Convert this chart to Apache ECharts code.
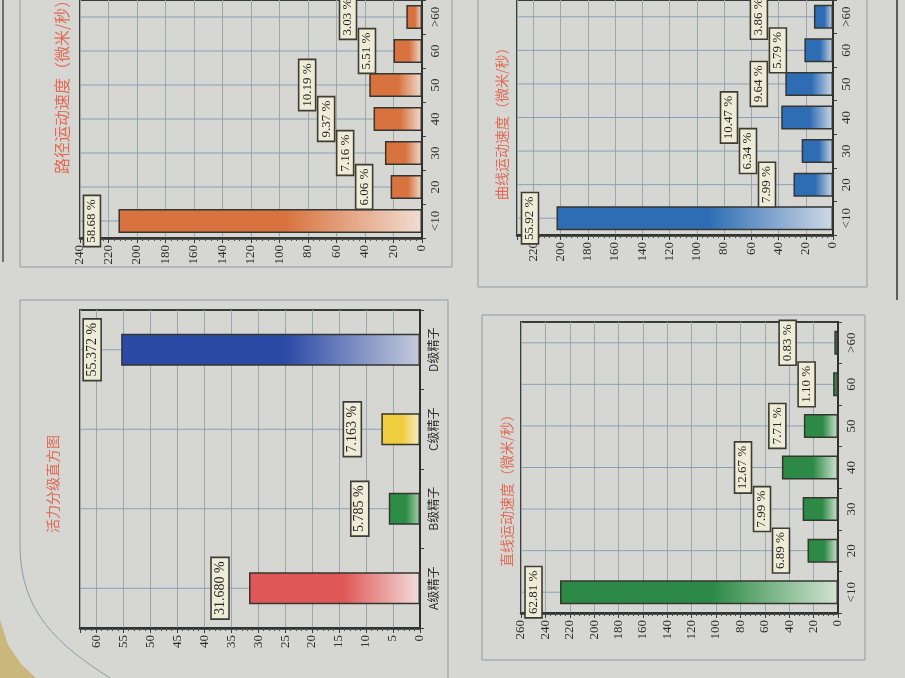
<!DOCTYPE html>
<html><head><meta charset="utf-8">
<script src="https://cdn.jsdelivr.net/npm/echarts@6/dist/echarts.min.js"></script>
<style>html,body{margin:0;padding:0;background:#d6d7d3}#c{width:905px;height:678px}</style>
</head><body><div id="c"></div>
<script>
// ---- data ----
const speedCats = ['<10', '20', '30', '40', '50', '60', '>60'];
const pathCounts = [213, 22, 26, 34, 37, 20, 11];
const pathPct = ['58.68', '6.06', '7.16', '9.37', '10.19', '5.51', '3.03'];
const curveCounts = [203, 29, 23, 38, 35, 21, 14];
const curvePct = ['55.92', '7.99', '6.34', '10.47', '9.64', '5.79', '3.86'];
const lineCounts = [228, 25, 29, 46, 28, 4, 3];
const linePct = ['62.81', '6.89', '7.99', '12.67', '7.71', '1.10', '0.83'];
const gradeCats = ['A级精子', 'B级精子', 'C级精子', 'D级精子'];
const gradeValues = [31.680, 5.785, 7.163, 55.372];
const gradePct = ['31.680', '5.785', '7.163', '55.372'];
const pathTickStep = 20, curveTickStep = 20, lineTickStep = 20, gradeTickStep = 5;

// ---- layout / style ----
const panels = [
  { title: '路径运动速度（微米/秒）', cats: speedCats, values: pathCounts, pct: pathPct,
    max: 240, interval: pathTickStep, grid: { left: 80, top: -14, width: 342, height: 252 },
    colors: [['#d8733f', '#f1ddd2']], titlePos: [62, 174], titleSize: 16, barWidth: 24, labelSize: 13, gap: 18 },
  { title: '曲线运动速度（微米/秒）', cats: speedCats, values: curveCounts, pct: curvePct,
    max: 232, interval: curveTickStep, grid: { left: 517, top: -17, width: 316, height: 252 },
    colors: [['#2e6db4', '#cfd9e6']], titlePos: [502, 200], titleSize: 14, barWidth: 24, labelSize: 13, gap: 18 },
  { title: '活力分级直方图', cats: gradeCats, values: gradeValues, pct: gradePct,
    max: 63, interval: gradeTickStep, grid: { left: 80, top: 310, width: 340, height: 318 },
    colors: [['#e05757', '#f3dcdc'], ['#2d8c45', '#a9d2b2'], ['#f0cd40', '#f6eccb'], ['#2b4aa6', '#c6cbdc']],
    titlePos: [53, 533], titleSize: 14, barWidth: 32, labelSize: 14, gap: 20 },
  { title: '直线运动速度（微米/秒）', cats: speedCats, values: lineCounts, pct: linePct,
    max: 260, interval: lineTickStep, grid: { left: 521, top: 322, width: 317, height: 291 },
    colors: [['#2d8a46', '#d2e4d2']], titlePos: [507, 567], titleSize: 14, barWidth: 24, labelSize: 13, gap: 18 }
];

const SERIF = '"Liberation Serif", "DejaVu Serif", serif';
const CJK = '"Noto Sans CJK SC", sans-serif';
const mctx = document.createElement('canvas').getContext('2d');
function textW(t, size) { mctx.font = size + 'px ' + SERIF; return mctx.measureText(t).width; }

function layoutBoxes(api, p) {
  const boxes = [];
  for (let j = 0; j < p.values.length; j++) {
    const end = api.coord([p.values[j], j]);
    const text = p.pct[j] + ' %';
    const len = textW(text, p.labelSize) + 8;
    const th = p.labelSize + 4;
    const r = { x: end[0] - p.gap - th, y: end[1] - len / 2, w: th, h: len, text: text, cy: end[1], ex: end[0] };
    let moved = true;
    while (moved) {
      moved = false;
      for (const b of boxes) {
        if (r.x < b.x + b.w && r.x + r.w > b.x && r.y < b.y + b.h && r.y + r.h > b.y) {
          r.x = b.x - 2 - th; moved = true;
        }
      }
    }
    boxes.push(r);
  }
  return boxes;
}

const grids = [], xAxes = [], yAxes = [], series = [], graphics = [];

// page decorations
const frameStyle = { fill: 'none', stroke: '#8f9ba6', lineWidth: 1 };
graphics.push(
  { type: 'rect', shape: { x: 20, y: -10, width: 432, height: 277 }, style: frameStyle },
  { type: 'rect', shape: { x: 478, y: -10, width: 389, height: 297 }, style: frameStyle },
  { type: 'polyline', shape: { points: [[448, 678], [448, 300], [20, 300], [20, 545]] }, style: frameStyle },
  { type: 'bezierCurve', shape: { x1: 20, y1: 545, cpx1: 20, cpy1: 612, cpx2: 58, cpy2: 645, x2: 110, y2: 678 }, style: frameStyle },
  { type: 'rect', shape: { x: 482, y: 315, width: 383, height: 345 }, style: frameStyle },
  { type: 'polygon', shape: { points: [[0, 620], [8, 645], [22, 665], [36, 678], [0, 678]] }, style: { fill: '#c9b77c' } },
  { type: 'line', shape: { x1: 3, y1: 0, x2: 3, y2: 262 }, style: { stroke: '#6d6f6c', lineWidth: 2 } },
  { type: 'line', shape: { x1: 897, y1: 0, x2: 897, y2: 300 }, style: { stroke: '#5c5e5b', lineWidth: 2 } }
);

panels.forEach((p, k) => {
  grids.push(Object.assign({ show: true, borderColor: '#3a3c38', borderWidth: 2, backgroundColor: 'transparent', containLabel: false }, p.grid));
  xAxes.push({
    gridIndex: k, type: 'value', inverse: true, position: 'bottom', min: 0, max: p.max, interval: p.interval,
    axisLine: { show: true, lineStyle: { color: '#2f312e', width: 2.5 } },
    axisTick: { show: true, length: 5, lineStyle: { color: '#3a3c38' } },
    minorTick: { show: true, splitNumber: 5, length: 3, lineStyle: { color: '#4a4c48' } },
    splitLine: { show: true, lineStyle: { color: '#9ea6ad', width: 1 } },
    axisLabel: { rotate: 90, margin: 7, fontFamily: SERIF, fontSize: 13, color: '#2e2e2e',
      formatter: v => (Math.abs(v % p.interval) < 1e-9 ? String(v) : '') }
  });
  yAxes.push({
    gridIndex: k, type: 'category', position: 'right', data: p.cats,
    axisLine: { show: true, lineStyle: { color: '#2f312e', width: 2 } },
    axisTick: { show: true, length: 4, lineStyle: { color: '#3a3c38' } },
    splitLine: { show: false },
    axisLabel: { rotate: 90, margin: 7, fontSize: k === 2 ? 12 : 13, color: '#2e2e2e',
      fontFamily: k === 2 ? CJK : SERIF }
  });
  // center grid lines (also act as the leader lines)
  series.push({
    type: 'custom', xAxisIndex: k, yAxisIndex: k, z: 1, silent: true,
    data: p.cats.map((c, i) => [0, i]),
    renderItem: (params, api) => {
      const i = params.dataIndex;
      const a = api.coord([p.max, i]), b = api.coord([0, i]);
      return { type: 'line', shape: { x1: a[0], y1: a[1], x2: b[0], y2: b[1] }, style: { stroke: '#8ba0b6', lineWidth: 1 } };
    }
  });
  series.push({
    type: 'bar', xAxisIndex: k, yAxisIndex: k, z: 3, barWidth: p.barWidth,
    data: p.values.map((v, i) => {
      const c = p.colors[i % p.colors.length];
      return { value: v, itemStyle: { color: new echarts.graphic.LinearGradient(0, 0, 1, 0, [{ offset: 0, color: c[0] }, { offset: 0.55, color: c[0] }, { offset: 1, color: c[1] }]) } };
    }),
    itemStyle: { borderColor: '#353630', borderWidth: 1.5 }
  });
  series.push({
    type: 'custom', xAxisIndex: k, yAxisIndex: k, z: 6, silent: true,
    data: p.values.map((v, i) => [v, i]),
    renderItem: (params, api) => {
      const boxes = layoutBoxes(api, p);
      const r = boxes[params.dataIndex];
      return {
        type: 'group', children: [
          { type: 'rect', shape: { x: r.x, y: r.y, width: r.w, height: r.h }, style: { fill: '#eeebd6', stroke: '#3d3d36', lineWidth: 1.6 } },
          { type: 'text', x: r.x + r.w / 2, y: r.cy, rotation: Math.PI / 2,
            style: { text: r.text, x: 0, y: 0, textAlign: 'center', textVerticalAlign: 'middle', align: 'center', verticalAlign: 'middle',
              fontSize: p.labelSize, fontFamily: SERIF, fill: '#262626' } }
        ]
      };
    }
  });
  graphics.push({
    type: 'text', x: p.titlePos[0], y: p.titlePos[1], rotation: Math.PI / 2, z: 10,
    style: { text: p.title, textAlign: 'left', textVerticalAlign: 'middle', align: 'left', verticalAlign: 'middle',
      fontSize: p.titleSize, fontFamily: CJK, fill: '#e06a55' }
  });
});

const chart = echarts.init(document.getElementById('c'), null, { renderer: 'canvas' });
chart.setOption({
  backgroundColor: '#d6d7d3',
  animation: false,
  grid: grids, xAxis: xAxes, yAxis: yAxes, series: series, graphic: graphics
});
</script></body></html>
